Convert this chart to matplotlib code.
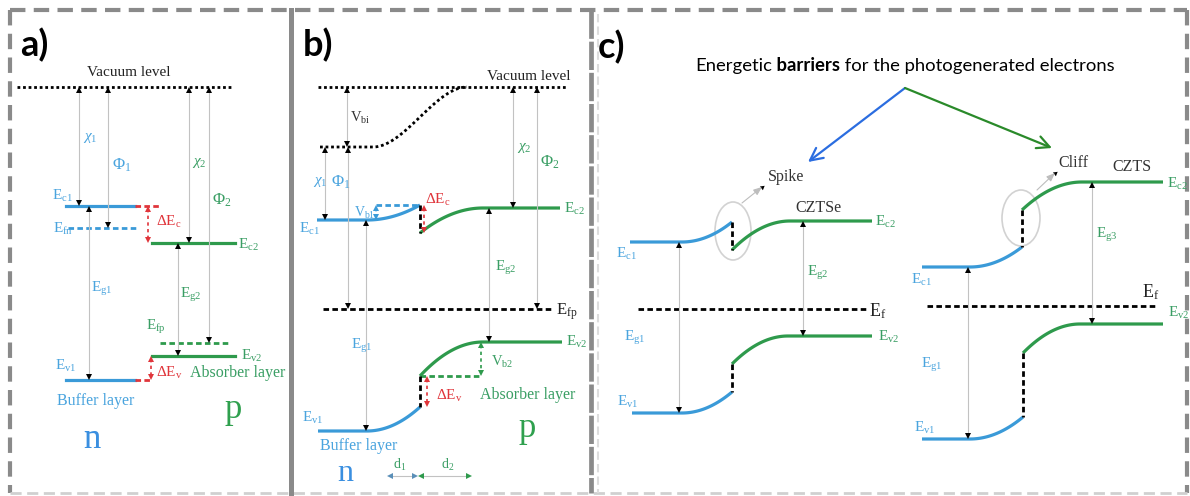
import numpy as np
import matplotlib
matplotlib.use("Agg")
import matplotlib.pyplot as plt
from matplotlib.patches import Ellipse, Rectangle

plt.rcParams['font.family'] = ['Liberation Serif', 'DejaVu Serif']
plt.rcParams['mathtext.fontset'] = 'custom'
plt.rcParams['mathtext.rm'] = 'Liberation Serif'
plt.rcParams['mathtext.it'] = 'Liberation Serif:italic'
plt.rcParams['mathtext.bf'] = 'Liberation Serif:bold'

BLUE = '#3a9ad8'
BLUE_T = '#4aa4de'
GREEN = '#2e9a4c'
GREEN_T = '#3a9e64'
RED = '#e0353b'
SHAFT = '#c2c2c2'
INK = '#222222'
BORDER = '#8a8a8a'

# ---- a) flat-band levels (y in px from the top) ----
a_vac = 87
a_ec1, a_efn, a_ev1 = 206, 228, 380
a_ec2, a_efp, a_ev2 = 243, 343, 356
a_buf_x = [66, 135]
a_abs_x = [152, 235]

# ---- b) band bending at the junction ----
b_vac = 87
b_vac_low = 147
b_junc = 420
b_ec1 = [220, 205]    # bulk, interface
b_ev1 = [431, 407]
b_ec2 = [233, 208]    # interface, bulk
b_ev2 = [376, 342]
b_efp = 309
b_buf_x = [317, 367]
b_abs_x = [483, 562]

# ---- c) spike (CZTSe) and cliff (CZTS) alignments ----
c_junc = [732, 1022]
c_ec1 = [[242, 222], [267, 247]]
c_ev1 = [[413, 392], [439, 417]]
c_ec2 = [[250, 221], [210, 182]]
c_ev2 = [[364, 336], [353, 324]]
c_ef = [309, 306]
c_buf_x = [[630, 682], [920, 970]]
c_abs_x = [[790, 872], [1082, 1163]]

fig = plt.figure(figsize=(11.9, 4.96), dpi=100)
ax = fig.add_axes([0, 0, 1, 1])
ax.set_xlim(0, 1190)
ax.set_ylim(496, 0)
ax.axis('off')


def varrow(x, y0, y1, shaft=SHAFT, head='k', ls='-', lw=0.8, ms=4.5):
    off = ms * 100 / 72 / 2
    ax.plot([x, x], [y0 + off, y1 - off], color=shaft, lw=lw, ls=ls)
    ax.plot(x, y0 + off, marker='^', color=head, ms=ms, mew=0)
    ax.plot(x, y1 - off, marker='v', color=head, ms=ms, mew=0)


def harrow(x0, x1, y, shaft=SHAFT, head='k', lw=0.8, ms=4.5):
    off = ms * 100 / 72 / 2
    ax.plot([x0 + off, x1 - off], [y, y], color=shaft, lw=lw)
    ax.plot(x0 + off, y, marker='<', color=head, ms=ms, mew=0)
    ax.plot(x1 - off, y, marker='>', color=head, ms=ms, mew=0)


def n_band(x0, xb, xj, yflat, yj, color=BLUE):
    # flat bulk, then bending with growing slope up to the interface
    t = np.linspace(0, 1, 40)
    xs = np.r_[x0, xb + (xj - xb) * t]
    ys = np.r_[yflat, yflat + (yj - yflat) * t ** 2]
    ax.plot(xs, ys, color=color, lw=2.3, solid_capstyle='butt')


def p_band(xj, xb, x1, yj, yflat, color=GREEN):
    t = np.linspace(0, 1, 40)
    xs = np.r_[xj + (xb - xj) * t, x1]
    ys = np.r_[yflat + (yj - yflat) * (1 - t) ** 2, yflat]
    ax.plot(xs, ys, color=color, lw=2.3, solid_capstyle='butt')


def lab(x, y, s, color=INK, size=11, ha='left', va='center', **kw):
    return ax.text(x, y, s, color=color, fontsize=size, ha=ha, va=va, **kw)


DOT = (0, (1, 1))
DASH = (0, (2, 1.2))

# ---- frame ----
fr = dict(color=BORDER, lw=3, ls=(0, (3.7, 2)), dash_capstyle='butt')
ax.plot([10, 1187], [10, 10], **fr)
ax.plot([10, 10], [10, 493], **fr)
ax.plot([1187, 1187], [10, 493], **fr)
ax.plot([10, 1187], [493, 493], color='#d0d0d0', lw=2, ls=(0, (4, 2)))
ax.plot([291, 291], [10, 496], color=BORDER, lw=3.6)
ax.plot([591, 591], [10, 493], color=BORDER, lw=3.4, ls=(0, (6, 0.6)))
ax.plot([598, 598], [14, 493], color='#dddddd', lw=1.5, ls=(0, (4, 2)))

pl = dict(fontsize=26, fontweight='bold', family='Lato', color='k', va='center')
ax.text(20, 45, 'a)', **pl)
ax.text(303, 45, 'b)', **pl)
ax.text(598, 47, 'c)', **pl)

# ================= a) =================
ax.plot([17, 233], [a_vac, a_vac], color='k', lw=2, ls=DOT)
lab(129, 73, 'Vacuum level', ha='center')
ax.plot(a_buf_x, [a_ec1, a_ec1], color=BLUE, lw=2.3)
ax.plot([a_buf_x[1], 160], [a_ec1, a_ec1], color=RED, lw=2, ls=DASH)
ax.plot([68, 137], [a_efn, a_efn], color=BLUE, lw=2, ls=DASH)
ax.plot(a_abs_x, [a_ec2, a_ec2], color=GREEN, lw=2.3)
ax.plot([160, 228], [a_efp, a_efp], color=GREEN, lw=2, ls=DASH)
ax.plot(a_abs_x, [a_ev2, a_ev2], color=GREEN, lw=2.3)
ax.plot(a_buf_x, [a_ev1, a_ev1], color=BLUE, lw=2.3)
ax.plot([a_buf_x[1], 150], [a_ev1, a_ev1], color=RED, lw=2, ls=DASH)

varrow(79, a_vac, a_ec1)
varrow(108, a_vac, a_efn)
varrow(189, a_vac, a_ec2)
varrow(209, a_vac, a_efp)
varrow(89, a_ec1, a_ev1)
varrow(178, a_ec2, a_ev2)
varrow(148, a_ec1, a_ec2, shaft=RED, head=RED, ls=(0, (2, 2)), lw=1.2)
varrow(151, a_ev2, a_ev1, shaft=RED, head=RED, ls=(0, (2, 2)), lw=1.2)

lab(83, 138, r'$\chi_1$', BLUE_T, 11)
lab(112, 165, r'$\Phi_1$', BLUE_T, 12)
lab(192, 163, r'$\chi_2$', GREEN_T, 11)
lab(212, 200, r'$\Phi_2$', GREEN_T, 12)
lab(52, 196, r'$\mathrm{E_{c1}}$', BLUE_T)
lab(53, 229, r'$\mathrm{E_{fn}}$', BLUE_T)
lab(156, 222, r'$\mathrm{\Delta E_c}$', RED)
lab(238, 245, r'$\mathrm{E_{c2}}$', GREEN_T)
lab(91, 289, r'$\mathrm{E_{g1}}$', BLUE_T)
lab(180, 295, r'$\mathrm{E_{g2}}$', GREEN_T)
lab(146, 327, r'$\mathrm{E_{fp}}$', GREEN_T)
lab(241, 356, r'$\mathrm{E_{v2}}$', GREEN_T)
lab(55, 366, r'$\mathrm{E_{v1}}$', BLUE_T)
lab(156, 373, r'$\mathrm{\Delta E_v}$', RED)
t = lab(190, 373, 'Absorber layer', GREEN_T, 11.5)
t.set_clip_path(Rectangle((0, 0), 288, 496, transform=ax.transData))
lab(57, 401, 'Buffer layer', BLUE_T, 11.5)
lab(92, 448, 'n', '#3a8fe0', 25, ha='center', va='baseline')
lab(233, 418, 'p', '#2fa04e', 25, ha='center', va='baseline')

# ================= b) =================
ax.plot([318, 568], [b_vac, b_vac], color='k', lw=2, ls=DOT)
tt = np.linspace(0, 1, 60)
xs = np.r_[320, 373 + (467 - 373) * tt]
ys = np.r_[b_vac_low, b_vac_low + (b_vac - b_vac_low) * (3 * tt ** 2 - 2 * tt ** 3)]
ax.plot(xs, ys, color='k', lw=2, ls=DOT)
lab(529, 76, 'Vacuum level', ha='center')

n_band(b_buf_x[0], b_buf_x[1], b_junc, b_ec1[0], b_ec1[1])
n_band(318, b_buf_x[1], b_junc, b_ev1[0], b_ev1[1])
p_band(b_junc, b_abs_x[0], 560, b_ec2[0], b_ec2[1])
p_band(b_junc, b_abs_x[0], b_abs_x[1], b_ev2[0], b_ev2[1])
ax.plot([376, b_junc], [b_ec1[1], b_ec1[1]], color=BLUE, lw=2, ls=DASH)
ax.plot([b_junc, 481], [b_ev2[0], b_ev2[0]], color=GREEN, lw=2, ls=DASH)
ax.plot([b_junc, b_junc], [b_ec1[1], b_ec2[0]], color='k', lw=2, ls=DASH)
ax.plot([b_junc, b_junc], [b_ev2[0], b_ev1[1]], color='k', lw=2, ls=DASH)
ax.plot([323, 553], [b_efp, b_efp], color='k', lw=2, ls=DASH)

varrow(347, b_vac, b_vac_low)
varrow(325, b_vac_low, b_ec1[0])
varrow(348, b_vac_low, b_efp)
varrow(376, b_ec1[1], b_ec1[0], shaft=BLUE, head=BLUE, ls=(0, (2, 2)), lw=1.2)
varrow(424, b_ec1[1], b_ec2[0], shaft=RED, head=RED, ls=(0, (2, 2)), lw=1.2)
varrow(489, b_ec2[1], b_ev2[1])
varrow(513, b_vac, b_ec2[1])
varrow(537, b_vac, b_efp)
varrow(366, b_ec1[0], b_ev1[0])
varrow(481, b_ev2[1], b_ev2[0], shaft=GREEN, head=GREEN, ls=(0, (2, 2)), lw=1.2)
varrow(427, b_ev2[0], b_ev1[1], shaft=RED, head=RED, ls=(0, (2, 2)), lw=1.2)
harrow(387, 418, 476, head='#5a8fb8')
harrow(418, 472, 476, head=GREEN)

lab(350, 118, r'$\mathrm{V_{bi}}$', '#333333', 10.5)
lab(313, 182, r'$\chi_1$', BLUE_T, 11)
lab(331, 182, r'$\Phi_1$', BLUE_T, 12)
lab(354, 213, r'$\mathrm{V_{b1}}$', BLUE_T, 10)
lab(425, 200, r'$\mathrm{\Delta E_c}$', RED)
lab(299, 229, r'$\mathrm{E_{c1}}$', BLUE_T)
lab(564, 209, r'$\mathrm{E_{c2}}$', GREEN_T)
lab(517, 148, r'$\chi_2$', GREEN_T, 11)
lab(540, 162, r'$\Phi_2$', GREEN_T, 12)
lab(495, 268, r'$\mathrm{E_{g2}}$', GREEN_T)
lab(351, 346, r'$\mathrm{E_{g1}}$', BLUE_T)
lab(556, 312, r'$\mathrm{E_{fp}}$', INK, 12)
lab(566, 342, r'$\mathrm{E_{v2}}$', GREEN_T)
lab(491, 362, r'$\mathrm{V_{b2}}$', GREEN_T, 10.5)
lab(436, 396, r'$\mathrm{\Delta E_v}$', RED)
lab(302, 418, r'$\mathrm{E_{v1}}$', BLUE_T)
lab(480, 395, 'Absorber layer', GREEN_T, 11.5)
lab(320, 446, 'Buffer layer', BLUE_T, 11.5)
lab(345, 481, 'n', '#3a8fe0', 23, ha='center', va='baseline')
lab(527, 437, 'p', '#2fa04e', 25, ha='center', va='baseline')
lab(393, 465, r'$\mathrm{d_1}$', GREEN_T, 10)
lab(441, 465, r'$\mathrm{d_2}$', GREEN_T, 10)

# ================= c) =================
t1 = ax.text(695, 74, 'Energetic', family='Lato', fontsize=13.3, color='k',
             va='bottom', ha='left')
t2 = ax.annotate(' barriers', xy=(1, 0), xycoords=t1, family='Lato',
                 fontweight='bold', fontsize=13.3, va='bottom', ha='left')
ax.annotate(' for the photogenerated electrons', xy=(1, 0), xycoords=t2,
            family='Lato', fontsize=13.3, va='bottom', ha='left')
ax.annotate('', xy=(808, 162), xytext=(905, 88),
            arrowprops=dict(arrowstyle='->,head_length=0.9,head_width=0.45',
                            color='#2b6de0', lw=1.6, shrinkA=0, shrinkB=0))
ax.annotate('', xy=(1052, 148), xytext=(905, 88),
            arrowprops=dict(arrowstyle='->,head_length=0.9,head_width=0.45',
                            color='#2a8a2a', lw=1.6, shrinkA=0, shrinkB=0))

lab(768, 177, 'Spike', '#333333', 11.5)
lab(1058, 163, 'Cliff', '#333333', 11.5)
lab(795, 208, 'CZTSe', '#333333', 11.5)
lab(1112, 167, 'CZTS', '#333333', 11.5)
for (x0, y0), (x1, y1) in [((742, 203), (762, 187)), ((1037, 190), (1055, 173))]:
    ax.annotate('', xy=(x1, y1), xytext=(x0, y0),
                arrowprops=dict(arrowstyle='-|>,head_length=0.5,head_width=0.2',
                                color='#bdbdbd', lw=0.8, shrinkA=0, shrinkB=0))
    ax.plot(x1, y1, marker=(3, 0, -52), color='k', ms=4, mew=0)
ax.add_patch(Ellipse((733, 231), 36, 58, fill=False, ec='#d2d2d2', lw=1.2))
ax.add_patch(Ellipse((1021, 218), 38, 56, fill=False, ec='#d2d2d2', lw=1.2))

for i in range(2):
    xj = c_junc[i]
    n_band(c_buf_x[i][0] + 2 * i, c_buf_x[i][1], xj, c_ec1[i][0], c_ec1[i][1])
    n_band(c_buf_x[i][0] + 2, c_buf_x[i][1], xj + i, c_ev1[i][0], c_ev1[i][1])
    p_band(xj, c_abs_x[i][0], c_abs_x[i][1], c_ec2[i][0], c_ec2[i][1])
    p_band(xj + i, c_abs_x[i][0] - 2, c_abs_x[i][1], c_ev2[i][0], c_ev2[i][1])
    ax.plot([xj, xj], sorted([c_ec1[i][1], c_ec2[i][0]]), color='k', lw=2, ls=DASH)
    ax.plot([xj + i, xj + i], [c_ev2[i][0], c_ev1[i][1]], color='k', lw=2, ls=DASH)

ax.plot([638, 867], [c_ef[0], c_ef[0]], color='k', lw=2, ls=DASH)
ax.plot([927, 1157], [c_ef[1], c_ef[1]], color='k', lw=2, ls=DASH)

varrow(679, c_ec1[0][0], c_ev1[0][0])
varrow(803, c_ec2[0][1], c_ev2[0][1])
varrow(968, c_ec1[1][0], c_ev1[1][0])
varrow(1092, c_ec2[1][1], c_ev2[1][1])

lab(616, 254, r'$\mathrm{E_{c1}}$', BLUE_T)
lab(624, 338, r'$\mathrm{E_{g1}}$', BLUE_T)
lab(617, 402, r'$\mathrm{E_{v1}}$', BLUE_T)
lab(875, 222, r'$\mathrm{E_{c2}}$', GREEN_T)
lab(807, 273, r'$\mathrm{E_{g2}}$', GREEN_T)
lab(869, 311, r'$\mathrm{E_f}$', INK, 13)
lab(878, 337, r'$\mathrm{E_{v2}}$', GREEN_T)

lab(911, 280, r'$\mathrm{E_{c1}}$', BLUE_T)
lab(921, 365, r'$\mathrm{E_{g1}}$', BLUE_T)
lab(914, 428, r'$\mathrm{E_{v1}}$', BLUE_T)
lab(1167, 184, r'$\mathrm{E_{c2}}$', GREEN_T)
lab(1096, 235, r'$\mathrm{E_{g3}}$', GREEN_T)
lab(1142, 292, r'$\mathrm{E_f}$', INK, 13)
lab(1168, 313, r'$\mathrm{E_{v2}}$', GREEN_T)

fig.savefig('out.png', dpi=100)
